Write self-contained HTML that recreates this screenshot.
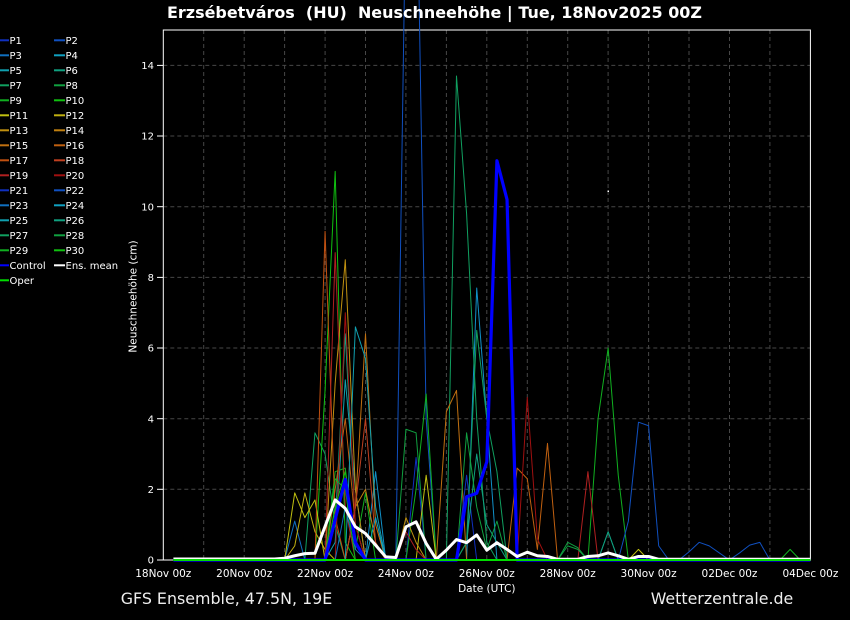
<!DOCTYPE html>
<html><head><meta charset="utf-8"><style>
html,body{margin:0;padding:0;background:#000;}
svg{display:block;}
</style></head><body>
<svg width="850" height="620" xmlns="http://www.w3.org/2000/svg" font-family="'DejaVu Sans','Liberation Sans',sans-serif">
<rect x="0" y="0" width="850" height="620" fill="#000"/>
<!-- grid -->
<g stroke="#474747" stroke-width="1" stroke-dasharray="4,3" fill="none">
<line x1="163.3" y1="489.3" x2="810.4" y2="489.3"/>
<line x1="163.3" y1="418.7" x2="810.4" y2="418.7"/>
<line x1="163.3" y1="348.0" x2="810.4" y2="348.0"/>
<line x1="163.3" y1="277.4" x2="810.4" y2="277.4"/>
<line x1="163.3" y1="206.7" x2="810.4" y2="206.7"/>
<line x1="163.3" y1="136.0" x2="810.4" y2="136.0"/>
<line x1="163.3" y1="65.4" x2="810.4" y2="65.4"/>
<line x1="203.7" y1="30" x2="203.7" y2="560"/>
<line x1="244.2" y1="30" x2="244.2" y2="560"/>
<line x1="284.6" y1="30" x2="284.6" y2="560"/>
<line x1="325.1" y1="30" x2="325.1" y2="560"/>
<line x1="365.5" y1="30" x2="365.5" y2="560"/>
<line x1="405.9" y1="30" x2="405.9" y2="560"/>
<line x1="446.4" y1="30" x2="446.4" y2="560"/>
<line x1="486.8" y1="30" x2="486.8" y2="560"/>
<line x1="527.3" y1="30" x2="527.3" y2="560"/>
<line x1="567.7" y1="30" x2="567.7" y2="560"/>
<line x1="608.1" y1="30" x2="608.1" y2="560"/>
<line x1="648.6" y1="30" x2="648.6" y2="560"/>
<line x1="689.0" y1="30" x2="689.0" y2="560"/>
<line x1="729.5" y1="30" x2="729.5" y2="560"/>
<line x1="769.9" y1="30" x2="769.9" y2="560"/>
</g>
<!-- frame -->
<rect x="163.3" y="30" width="647.1" height="530" fill="none" stroke="#fff" stroke-width="1"/>
<g stroke="#fff" stroke-width="1">
<line x1="157" y1="560" x2="163.3" y2="560"/>
<line x1="157" y1="489.3" x2="163.3" y2="489.3"/>
<line x1="157" y1="418.7" x2="163.3" y2="418.7"/>
<line x1="157" y1="348.0" x2="163.3" y2="348.0"/>
<line x1="157" y1="277.4" x2="163.3" y2="277.4"/>
<line x1="157" y1="206.7" x2="163.3" y2="206.7"/>
<line x1="157" y1="136.0" x2="163.3" y2="136.0"/>
<line x1="157" y1="65.4" x2="163.3" y2="65.4"/>
</g>
<!-- data -->
<g transform="translate(163.3,560) scale(10.11,-35.33)" fill="none" stroke-linejoin="round">
<g stroke-width="1">
<polyline vector-effect="non-scaling-stroke" stroke="#1030c0" points="1,0 24,0 25,2.9 26,0 64,0"/>
<polyline vector-effect="non-scaling-stroke" stroke="#1050c0" points="1,0 23,0 24,19 25,21 26,4.0 27,0 64,0"/>
<polyline vector-effect="non-scaling-stroke" stroke="#1070c0" points="1,0 12,0 13,1.1 14,0 64,0"/>
<polyline vector-effect="non-scaling-stroke" stroke="#1090c8" points="1,0 20,0 21,2.5 22,0 30,0 31,7.7 32,4.0 33,0 64,0"/>
<polyline vector-effect="non-scaling-stroke" stroke="#10a0b0" points="1,0 16,0 17,0.5 18,5.1 19,2.0 20,0 64,0"/>
<polyline vector-effect="non-scaling-stroke" stroke="#10a080" points="1,0 16,0 17,1.0 18,6.4 19,1.0 20,0 43,0 44,0.8 45,0 64,0"/>
<polyline vector-effect="non-scaling-stroke" stroke="#10a060" points="1,0 14,0 15,3.6 16,3.0 17,1.0 18,0 28,0 29,13.7 30,9.8 31,4.0 32,0.5 33,0 64,0"/>
<polyline vector-effect="non-scaling-stroke" stroke="#10a040" points="1,0 23,0 24,3.7 25,3.6 26,0 39,0 40,0.5 41,0.35 42,0 64,0"/>
<polyline vector-effect="non-scaling-stroke" stroke="#10b020" points="1,0 16,0 17,2.5 18,2.6 19,0.3 20,1.9 21,0 24,0 25,2.0 26,4.7 27,0 42,0 43,4.0 44,6.0 45,2.4 46,0 61,0 62,0.3 63,0 64,0"/>
<polyline vector-effect="non-scaling-stroke" stroke="#10c010" points="1,0 15,0 16,4.8 17,11.0 18,0.5 19,0 64,0"/>
<polyline vector-effect="non-scaling-stroke" stroke="#c0c010" points="1,0 12,0 13,1.9 14,1.2 15,1.7 16,0 25,0 26,2.4 27,0 46,0 47,0.3 48,0 64,0"/>
<polyline vector-effect="non-scaling-stroke" stroke="#c0b010" points="1,0 12,0 13,0.4 14,1.9 15,0.8 16,0.3 17,0 64,0"/>
<polyline vector-effect="non-scaling-stroke" stroke="#c09010" points="1,0 16,0 17,5.0 18,8.5 19,2.0 20,0 23,0 24,1.2 25,0.5 26,0 64,0"/>
<polyline vector-effect="non-scaling-stroke" stroke="#c08010" points="1,0 18,0 19,1.5 20,2.0 21,0.5 22,0 64,0"/>
<polyline vector-effect="non-scaling-stroke" stroke="#c07010" points="1,0 18,0 19,1.5 20,6.4 21,1.0 22,0 27,0 28,4.2 29,4.8 30,0 64,0"/>
<polyline vector-effect="non-scaling-stroke" stroke="#c06010" points="1,0 16,0 17,2.0 18,4.0 19,1.0 20,0 34,0 35,2.6 36,2.3 37,0.3 38,3.3 39,0 64,0"/>
<polyline vector-effect="non-scaling-stroke" stroke="#c05010" points="1,0 15,0 16,9.3 17,1.2 18,0 64,0"/>
<polyline vector-effect="non-scaling-stroke" stroke="#c04020" points="1,0 18,0 19,1.5 20,4.0 21,0.5 22,0 64,0"/>
<polyline vector-effect="non-scaling-stroke" stroke="#b02020" points="1,0 16,0 17,8.7 18,1.5 19,0 23,0 24,0.8 25,0.3 26,0 41,0 42,2.5 43,0 64,0"/>
<polyline vector-effect="non-scaling-stroke" stroke="#a01010" points="1,0 17,0 18,7.0 19,1.0 20,0 35,0 36,4.6 37,0.6 38,0 64,0"/>
<polyline vector-effect="non-scaling-stroke" stroke="#1030c0" points="1,0 29,0 30,2.4 31,0 64,0"/>
<polyline vector-effect="non-scaling-stroke" stroke="#1050c0" points="1,0 45,0 46,1.1 47,3.9 48,3.8 49,0.4 50,0 51,0 52,0.23 53,0.5 54,0.4 55,0.2 56,0 57,0.2 58,0.42 59,0.5 60,0 64,0"/>
<polyline vector-effect="non-scaling-stroke" stroke="#1070c0" points="1,0 17,0 18,1.5 19,0.3 20,0 64,0"/>
<polyline vector-effect="non-scaling-stroke" stroke="#10a0c0" points="1,0 20,0 21,1.2 22,0 64,0"/>
<polyline vector-effect="non-scaling-stroke" stroke="#10a0b0" points="1,0 18,0 19,6.6 20,5.7 21,1.5 22,0 64,0"/>
<polyline vector-effect="non-scaling-stroke" stroke="#10a080" points="1,0 29,0 30,0.5 31,3.0 32,1.0 33,0.5 34,0 43,0 44,0.8 45,0 64,0"/>
<polyline vector-effect="non-scaling-stroke" stroke="#10a060" points="1,0 29,0 30,0.5 31,6.5 32,4.0 33,2.5 34,0 64,0"/>
<polyline vector-effect="non-scaling-stroke" stroke="#10a040" points="1,0 29,0 30,3.6 31,1.5 32,0.3 33,1.1 34,0 39,0 40,0.4 41,0.3 42,0 64,0"/>
<polyline vector-effect="non-scaling-stroke" stroke="#10b020" points="1,0 16,0 17,2.3 18,2.0 19,0 64,0"/>
<polyline vector-effect="non-scaling-stroke" stroke="#10c010" points="1,0 16,0 17,1.5 18,2.5 19,0.5 20,0 64,0"/>
</g>
<polyline vector-effect="non-scaling-stroke" stroke="#0000ff" stroke-width="3.2" points="1,0 16,0 17,1.15 18,2.28 19,0.5 20,0 29,0 30,1.79 31,1.89 32,2.78 33,11.3 34,10.2 35,0 64,0"/>
<polyline vector-effect="non-scaling-stroke" stroke="#ffffff" stroke-width="3" points="1,0.03 11,0.03 12,0.05 13,0.12 14,0.18 15,0.19 16,0.95 17,1.7 18,1.46 19,0.94 20,0.75 21,0.42 22,0.09 23,0.07 24,0.94 25,1.08 26,0.47 27,0.02 28,0.28 29,0.58 30,0.49 31,0.71 32,0.28 33,0.49 34,0.3 35,0.1 36,0.22 37,0.12 38,0.1 39,0.02 40,0.02 41,0.02 42,0.1 43,0.12 44,0.2 45,0.12 46,0.02 47,0.1 48,0.1 49,0.02 64,0.02"/>
<polyline vector-effect="non-scaling-stroke" stroke="#00dd00" stroke-width="2" points="1,0 64,0"/>
</g>
<rect x="607.5" y="190.5" width="1.5" height="1.5" fill="#fff"/>
<!-- y tick labels -->
<g fill="#fff" font-size="10" text-anchor="end">
<text x="154" y="563.6">0</text>
<text x="154" y="492.9">2</text>
<text x="154" y="422.3">4</text>
<text x="154" y="351.6">6</text>
<text x="154" y="281.0">8</text>
<text x="154" y="210.3">10</text>
<text x="154" y="139.6">12</text>
<text x="154" y="69.0">14</text>
</g>
<!-- x tick labels -->
<g fill="#fff" font-size="10.5" text-anchor="middle">
<text x="163.3" y="577">18Nov 00z</text>
<text x="244.2" y="577">20Nov 00z</text>
<text x="325.1" y="577">22Nov 00z</text>
<text x="405.9" y="577">24Nov 00z</text>
<text x="486.8" y="577">26Nov 00z</text>
<text x="567.7" y="577">28Nov 00z</text>
<text x="648.6" y="577">30Nov 00z</text>
<text x="729.5" y="577">02Dec 00z</text>
<text x="810.4" y="577">04Dec 00z</text>
<text x="486.8" y="592">Date (UTC)</text>
</g>
<text transform="translate(136.5,296.5) rotate(-90)" fill="#fff" font-size="10.5" text-anchor="middle">Neuschneehöhe (cm)</text>
<!-- title -->
<text x="167" y="18" fill="#fff" font-size="16" font-weight="bold" xml:space="preserve" textLength="535" lengthAdjust="spacingAndGlyphs">Erzsébetváros  (HU)  Neuschneehöhe | Tue, 18Nov2025 00Z</text>
<!-- footer -->
<text x="120.7" y="604" fill="#eeeeee" font-size="16" textLength="211.6" lengthAdjust="spacingAndGlyphs">GFS Ensemble, 47.5N, 19E</text>
<text x="650.7" y="604" fill="#eeeeee" font-size="16" textLength="142.6" lengthAdjust="spacingAndGlyphs">Wetterzentrale.de</text>
<!-- legend -->
<g stroke-width="2">
<line x1="0" y1="40.3" x2="9" y2="40.3" stroke="#1030c0"/>
<line x1="54" y1="40.3" x2="65" y2="40.3" stroke="#1050c0"/>
<line x1="0" y1="55.3" x2="9" y2="55.3" stroke="#1070c0"/>
<line x1="54" y1="55.3" x2="65" y2="55.3" stroke="#10a0c0"/>
<line x1="0" y1="70.3" x2="9" y2="70.3" stroke="#10a0b0"/>
<line x1="54" y1="70.3" x2="65" y2="70.3" stroke="#10a080"/>
<line x1="0" y1="85.3" x2="9" y2="85.3" stroke="#10a060"/>
<line x1="54" y1="85.3" x2="65" y2="85.3" stroke="#10a040"/>
<line x1="0" y1="100.3" x2="9" y2="100.3" stroke="#10b020"/>
<line x1="54" y1="100.3" x2="65" y2="100.3" stroke="#10c010"/>
<line x1="0" y1="115.3" x2="9" y2="115.3" stroke="#c0c010"/>
<line x1="54" y1="115.3" x2="65" y2="115.3" stroke="#c0b010"/>
<line x1="0" y1="130.3" x2="9" y2="130.3" stroke="#c09010"/>
<line x1="54" y1="130.3" x2="65" y2="130.3" stroke="#c08010"/>
<line x1="0" y1="145.3" x2="9" y2="145.3" stroke="#c07010"/>
<line x1="54" y1="145.3" x2="65" y2="145.3" stroke="#c06010"/>
<line x1="0" y1="160.3" x2="9" y2="160.3" stroke="#c05010"/>
<line x1="54" y1="160.3" x2="65" y2="160.3" stroke="#c04020"/>
<line x1="0" y1="175.3" x2="9" y2="175.3" stroke="#b02020"/>
<line x1="54" y1="175.3" x2="65" y2="175.3" stroke="#a01010"/>
<line x1="0" y1="190.3" x2="9" y2="190.3" stroke="#1030c0"/>
<line x1="54" y1="190.3" x2="65" y2="190.3" stroke="#1050c0"/>
<line x1="0" y1="205.3" x2="9" y2="205.3" stroke="#1070c0"/>
<line x1="54" y1="205.3" x2="65" y2="205.3" stroke="#10a0c0"/>
<line x1="0" y1="220.3" x2="9" y2="220.3" stroke="#10a0b0"/>
<line x1="54" y1="220.3" x2="65" y2="220.3" stroke="#10a080"/>
<line x1="0" y1="235.3" x2="9" y2="235.3" stroke="#10a060"/>
<line x1="54" y1="235.3" x2="65" y2="235.3" stroke="#10a040"/>
<line x1="0" y1="250.3" x2="9" y2="250.3" stroke="#10b020"/>
<line x1="54" y1="250.3" x2="65" y2="250.3" stroke="#10c010"/>
<line x1="0" y1="265.3" x2="9" y2="265.3" stroke="#0000ff"/>
<line x1="54" y1="265.3" x2="65" y2="265.3" stroke="#ffffff"/>
<line x1="0" y1="280.3" x2="9" y2="280.3" stroke="#00dd00"/>
</g>
<g fill="#fff" font-size="10">
<text x="9.5" y="43.9">P1</text><text x="65.5" y="43.9">P2</text>
<text x="9.5" y="58.9">P3</text><text x="65.5" y="58.9">P4</text>
<text x="9.5" y="73.9">P5</text><text x="65.5" y="73.9">P6</text>
<text x="9.5" y="88.9">P7</text><text x="65.5" y="88.9">P8</text>
<text x="9.5" y="103.9">P9</text><text x="65.5" y="103.9">P10</text>
<text x="9.5" y="118.9">P11</text><text x="65.5" y="118.9">P12</text>
<text x="9.5" y="133.9">P13</text><text x="65.5" y="133.9">P14</text>
<text x="9.5" y="148.9">P15</text><text x="65.5" y="148.9">P16</text>
<text x="9.5" y="163.9">P17</text><text x="65.5" y="163.9">P18</text>
<text x="9.5" y="178.9">P19</text><text x="65.5" y="178.9">P20</text>
<text x="9.5" y="193.9">P21</text><text x="65.5" y="193.9">P22</text>
<text x="9.5" y="208.9">P23</text><text x="65.5" y="208.9">P24</text>
<text x="9.5" y="223.9">P25</text><text x="65.5" y="223.9">P26</text>
<text x="9.5" y="238.9">P27</text><text x="65.5" y="238.9">P28</text>
<text x="9.5" y="253.9">P29</text><text x="65.5" y="253.9">P30</text>
<text x="9.5" y="268.9">Control</text><text x="65.5" y="268.9">Ens. mean</text>
<text x="9.5" y="283.9">Oper</text>
</g>
</svg>
</body></html>
